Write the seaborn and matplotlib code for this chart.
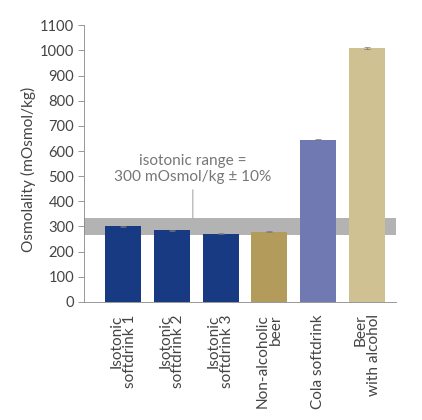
import matplotlib
matplotlib.use("Agg")
import matplotlib.pyplot as plt
from matplotlib.font_manager import FontProperties
import seaborn as sns
import pandas as pd

categories = ["Isotonic\nsoftdrink 1", "Isotonic\nsoftdrink 2", "Isotonic\nsoftdrink 3",
              "Non-alcoholic\nbeer", "Cola softdrink", "Beer\nwith alcohol"]
values = [301, 286, 272, 279, 645, 1010]
errors = [2, 2, 2, 2, 3, 4]
colors = ["#173a82", "#173a82", "#173a82", "#b39c5b", "#7079b2", "#d0c193"]
band_low, band_high = 268, 332
yticks = list(range(0, 1101, 100))
ylabel = "Osmolality (mOsmol/kg)"
note = "isotonic range =\n300 mOsmol/kg \u00b1 10%"

sns.set_theme(style="white")
FAM = ['Lato', 'DejaVu Sans']
plt.rcParams['font.family'] = FAM

fig = plt.figure(figsize=(4.22, 4.20), dpi=100)
renderer = fig.canvas.get_renderer()

def fit_size(text, target_px):
    fp = FontProperties(family=FAM, size=10)
    w, h, d = renderer.get_text_width_height_descent(text, fp, ismath=False)
    return 10 * target_px / w

tick_fs = fit_size("1000", 34)
xl_fs = fit_size("Cola softdrink", 95)
yl_fs = fit_size(ylabel, 165)
note_fs = fit_size("300 mOsmol/kg \u00b1 10%", 157)
xl_ls = 17 / (xl_fs * 100 / 72 * 1.2)

df = pd.DataFrame({"cat": categories, "val": values})
ax = fig.add_axes([0.199, 0.281, 0.739, 0.659])

ax.axhspan(band_low, band_high, color="#b3b3b3", zorder=0, lw=0)
sns.barplot(data=df, x="cat", y="val", hue="cat", palette=colors, legend=False,
            width=0.74, ax=ax, zorder=2, errorbar=None, saturation=1, linewidth=0)
ax.errorbar(range(len(values)), values, yerr=errors, fmt="none", ecolor="#777777",
            elinewidth=0.5, capsize=2, capthick=0.5, zorder=3)

ax.set_xlim(-0.8, 5.59)
ax.set_ylim(0, 1100)
ax.set_yticks(yticks)
ax.set_yticklabels([str(t) for t in yticks], fontsize=tick_fs, color="#444444")
ax.set_xticks(range(len(categories)))
ax.set_xticklabels(categories, rotation=90, fontsize=xl_fs, color="#444444",
                   multialignment="right", linespacing=xl_ls)
ax.tick_params(axis="x", length=0, pad=9)
ax.tick_params(axis="y", length=4, width=0.6, color="#888888", pad=3, left=True)
ax.set_xlabel("")
ax.set_ylabel(ylabel, fontsize=yl_fs, color="#444444")
ax.yaxis.set_label_coords(-0.154, 0.479)

for s in ["top", "right"]:
    ax.spines[s].set_visible(False)
for s in ["left", "bottom"]:
    ax.spines[s].set_color("#888888")
    ax.spines[s].set_linewidth(0.6)

ax.annotate(note, xy=(1.43, band_high),
            xytext=(1.43, 470), textcoords="data", ha="center", va="bottom",
            fontsize=note_fs, color="#777777", linespacing=1.2,
            arrowprops=dict(arrowstyle="-", color="#aaaaaa", lw=0.8, shrinkA=2, shrinkB=0))

fig.savefig("out.png", dpi=100)
